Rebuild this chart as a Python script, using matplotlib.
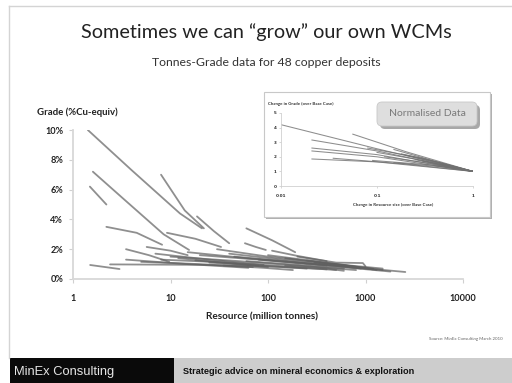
import matplotlib
matplotlib.use("Agg")
import matplotlib.pyplot as plt
from matplotlib.patches import Rectangle, FancyBboxPatch
import numpy as np

# ---------------- data ----------------
x_ticks = [1, 10, 100, 1000, 10000]
x_tick_labels = ["1", "10", "100", "1000", "10000"]
y_ticks = [0, 0.02, 0.04, 0.06, 0.08, 0.10]
y_tick_labels = ["0%", "2%", "4%", "6%", "8%", "10%"]

# resource (Mt) and grade (%Cu-equiv) along each deposit's grade-tonnage curve
deposit_tonnes = [
    [1.42, 4, 12.5, 21],
    [1.6, 3.4, 8.5, 15.5],
    [1.49, 2.2],
    [8.0, 14, 22],
    [18.7, 28, 40],
    [2.2, 4.5, 8.2],
    [3.5, 6, 9.7],
    [5.7, 10, 15],
    [9.2, 18, 33],
    [60, 110, 190],
    [58, 75, 95],
    [1.5, 3.0],
    [2.4, 20, 100, 400],
    [3.5, 15, 63],
    [10, 50, 200, 800],
    [15, 60, 300, 1200],
    [20, 100, 500, 2560],
    [30, 100, 400, 1500],
    [8, 40, 150, 500],
    [40, 120, 350, 900],
    [100, 300, 800],
    [150, 400, 1200],
    [200, 500, 940, 1000],
    [60, 200, 600],
    [12, 30, 80],
    [25, 80, 250],
    [5, 20, 70],
    [80, 250, 700, 1800],
    [300, 700, 1500],
    [45, 150, 400],
    [110, 200, 400],
    [7, 25, 90],
    [35, 90, 180],
    [150, 350, 600],
    [18, 40, 100],
    [250, 600, 1300],
]
deposit_grades = [
    [10.0, 7.3, 4.4, 3.4],
    [7.2, 5.3, 3.0, 1.95],
    [6.2, 5.0],
    [7.0, 4.6, 3.4],
    [4.2, 3.2, 2.4],
    [3.5, 3.1, 2.3],
    [2.0, 1.6, 1.15],
    [2.15, 1.9, 1.6],
    [3.1, 2.7, 2.15],
    [3.4, 2.6, 1.8],
    [2.4, 2.15, 1.95],
    [0.94, 0.67],
    [0.98, 0.95, 0.85, 0.65],
    [1.3, 1.0, 0.75],
    [1.5, 1.2, 0.9, 0.6],
    [1.8, 1.4, 1.0, 0.65],
    [1.6, 1.25, 0.9, 0.47],
    [2.0, 1.5, 1.05, 0.7],
    [1.3, 1.1, 0.85, 0.6],
    [1.7, 1.35, 1.0, 0.7],
    [1.6, 1.2, 0.8],
    [1.4, 1.05, 0.7],
    [1.5, 1.1, 1.07, 0.85],
    [1.2, 0.95, 0.7],
    [1.4, 1.15, 0.9],
    [1.1, 0.9, 0.7],
    [1.15, 1.0, 0.8],
    [1.3, 1.0, 0.75, 0.5],
    [1.1, 0.85, 0.6],
    [1.5, 1.2, 0.9],
    [1.9, 1.55, 1.2],
    [1.7, 1.3, 0.95],
    [0.9, 0.75, 0.6],
    [0.9, 0.75, 0.55],
    [1.25, 1.05, 0.8],
    [1.25, 0.95, 0.6],
]

# normalised inset: change in resource size / change in grade (over base case)
inset_x_ticks = [0.01, 0.1, 1]
inset_x_tick_labels = ["0.01", "0.1", "1"]
inset_y_ticks = [0, 1, 2, 3, 4, 5]
norm_size = [
    [0.01, 0.1, 1],
    [0.021, 0.1, 1],
    [0.056, 0.2, 1],
    [0.021, 0.1, 1],
    [0.021, 0.1, 1],
    [0.021, 0.1, 1],
    [0.035, 0.2, 1],
    [0.08, 0.3, 1],
    [0.1, 0.3, 1],
    [0.12, 0.4, 1],
    [0.15, 0.4, 1],
    [0.2, 0.5, 1],
    [0.25, 0.5, 1],
    [0.3, 0.6, 1],
    [0.15, 0.5, 1],
    [0.4, 0.7, 1],
    [0.18, 0.45, 1],
    [0.09, 0.35, 1],
]
norm_grade = [
    [4.2, 2.55, 1.0],
    [3.15, 2.4, 1.0],
    [3.55, 2.35, 1.0],
    [2.6, 2.15, 1.0],
    [2.4, 2.0, 1.0],
    [1.85, 1.65, 1.0],
    [1.9, 1.5, 1.0],
    [2.6, 1.9, 1.0],
    [2.3, 1.75, 1.0],
    [2.0, 1.5, 1.0],
    [2.5, 1.7, 1.0],
    [2.1, 1.5, 1.0],
    [1.8, 1.4, 1.0],
    [1.7, 1.35, 1.0],
    [1.6, 1.3, 1.0],
    [1.45, 1.2, 1.0],
    [2.2, 1.6, 1.0],
    [1.75, 1.45, 1.0],
]

# ---------------- layout helpers ----------------
W, H = 512, 383


def rect(x0, y0, x1, y1):
    return [x0 / W, 1 - y1 / H, (x1 - x0) / W, (y1 - y0) / H]


SLIDE = "Lato"
fig = plt.figure(figsize=(5.12, 3.83), dpi=100)
fig.patch.set_facecolor("white")

# decoration layer (pixel coordinates)
deco = fig.add_axes([0, 0, 1, 1], zorder=0)
deco.set_xlim(0, W)
deco.set_ylim(H, 0)
deco.axis("off")

deco.plot([9, 9], [6, 358], color="#d4d4d4", lw=1.0)
deco.plot([9, 512], [6, 6], color="#d4d4d4", lw=1.0)

deco.text(266, 32, "Sometimes we can \u201cgrow\u201d our own WCMs", ha="center",
          va="center", fontsize=14.3, family=SLIDE, color="#222222")
deco.text(266, 62, "Tonnes-Grade data for 48 copper deposits", ha="center",
          va="center", fontsize=8.8, family=SLIDE, color="#333333")

deco.text(37, 112, "Grade (%Cu-equiv)", ha="left", va="center", fontsize=6.9,
          family=SLIDE, fontweight="bold", color="#222222")
deco.text(262, 317, "Resource (million tonnes)", ha="center", va="center",
          fontsize=7.2, family=SLIDE, fontweight="bold", color="#222222")
deco.text(503, 339, "Source: MinEx Consulting March 2010", ha="right",
          va="center", fontsize=3.2, family=SLIDE, color="#666666")

# footer
deco.add_patch(Rectangle((10, 358), 164, 26, facecolor="#0a0a0a", edgecolor="none"))
deco.add_patch(Rectangle((174, 358), 338, 26, facecolor="#cdcdcd", edgecolor="none"))
deco.text(14, 372, "MinEx Consulting", ha="left", va="center", fontsize=9.3,
          family="Liberation Sans", color="#e6e6e6")
deco.text(183, 371, "Strategic advice on mineral economics & exploration",
          ha="left", va="center", fontsize=6.6, family="Liberation Sans",
          fontweight="bold", color="#111111")

# inset frame with shadow
deco.add_patch(Rectangle((266, 94), 226, 125, facecolor="#b0b0b0", edgecolor="none"))
deco.add_patch(Rectangle((264, 92), 226, 125, facecolor="white",
                         edgecolor="#c8c8c8", lw=0.8))
deco.text(268, 104, "Change in Grade (over Base Case)", ha="left", va="center",
          fontsize=3.2, family=SLIDE, fontweight="bold", color="#333333")
deco.text(393, 205, "Change in Resource size (over Base Case)", ha="center",
          va="center", fontsize=3.2, family=SLIDE, fontweight="bold",
          color="#333333")

# ---------------- main chart ----------------
ax = fig.add_axes(rect(73, 130, 463, 279), zorder=1)
ax.set_facecolor("none")
for xs, gs in zip(deposit_tonnes, deposit_grades):
    ax.plot(xs, np.array(gs) / 100.0, color="#606060", lw=1.3, alpha=0.7,
            solid_capstyle="round")
ax.set_xscale("log")
ax.set_xlim(1, 10000)
ax.set_ylim(0, 0.10)
ax.set_xticks(x_ticks)
ax.set_xticklabels(x_tick_labels)
ax.set_yticks(y_ticks)
ax.set_yticklabels(y_tick_labels)
ax.xaxis.set_minor_locator(matplotlib.ticker.NullLocator())
for s in ["top", "right"]:
    ax.spines[s].set_visible(False)
for s in ["left", "bottom"]:
    ax.spines[s].set_color("#d8d8d8")
    ax.spines[s].set_linewidth(1.3)
ax.tick_params(axis="both", which="major", length=3, width=0.8,
               color="#d0d0d0", labelsize=6.6, labelcolor="#222222", pad=4)
for lab in ax.get_xticklabels() + ax.get_yticklabels():
    lab.set_fontfamily(SLIDE)
    lab.set_fontweight("bold")
ax.tick_params(axis="x", pad=8)

# ---------------- inset ----------------
ax2 = fig.add_axes(rect(281, 113, 473, 186), zorder=2)
ax2.set_facecolor("none")
for xs, gs in zip(norm_size, norm_grade):
    ax2.plot(xs, gs, color="#707070", lw=0.75, alpha=0.8)
ax2.set_xscale("log")
ax2.set_xlim(0.01, 1)
ax2.set_ylim(0, 5)
ax2.set_xticks(inset_x_ticks)
ax2.set_xticklabels(inset_x_tick_labels)
ax2.set_yticks(inset_y_ticks)
ax2.xaxis.set_minor_locator(matplotlib.ticker.NullLocator())
for s in ["top", "right"]:
    ax2.spines[s].set_visible(False)
for s in ["left", "bottom"]:
    ax2.spines[s].set_color("#d0d0d0")
    ax2.spines[s].set_linewidth(0.6)
ax2.tick_params(axis="both", length=1.5, width=0.5, color="#c8c8c8",
                labelsize=3, labelcolor="#333333", pad=1.5)
ax2.tick_params(axis="x", pad=4)
for lab in ax2.get_xticklabels() + ax2.get_yticklabels():
    lab.set_fontweight("bold")

# "Normalised Data" label box
top = fig.add_axes([0, 0, 1, 1], zorder=3)
top.set_xlim(0, W)
top.set_ylim(H, 0)
top.axis("off")
top.add_patch(FancyBboxPatch((380, 105), 100, 24, boxstyle="round,pad=0,rounding_size=5",
                             facecolor="#a8a8a8", edgecolor="none"))
top.add_patch(FancyBboxPatch((377, 102), 100, 24, boxstyle="round,pad=0,rounding_size=5",
                             facecolor="#dedede", edgecolor="#c8c8c8", lw=0.6))
top.text(427, 114, "Normalised Data", ha="center", va="center", fontsize=7.5,
         family=SLIDE, color="#7a7a7a")

fig.savefig("out.png", dpi=100)
